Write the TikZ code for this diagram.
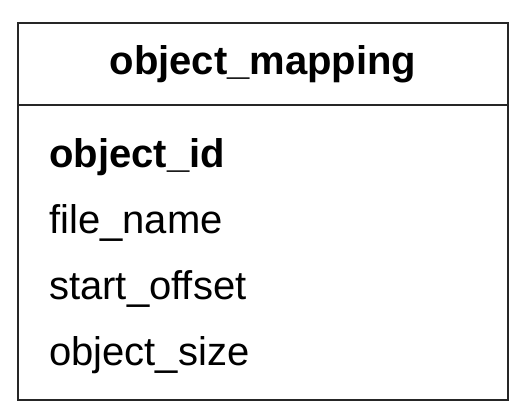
\documentclass[tikz,border=0pt]{standalone}
\usepackage{fontspec}
\setmainfont{Liberation Sans}
\usepackage{tikz}
\usetikzlibrary{positioning}
\tikzset{x=1pt, y=-1pt}
\tikzstyle{tablebox} = [rectangle, draw=black!85, line width=1.5pt, minimum width=490pt, minimum height=377pt, inner sep=0pt]
\tikzstyle{attr} = [anchor=base west, inner sep=0pt, font=\fontsize{40}{48}\selectfont]

\begin{document}
\begin{tikzpicture}
\useasboundingbox (0,0) rectangle (530,416);
\node [tablebox] (tbl) at (263, 211.5) {};
\node [anchor=base, inner sep=0pt, font=\fontsize{40}{48}\selectfont\bfseries] (title) at (263, 74) {object\_mapping};
\coordinate (hl) at (18, 105);
\coordinate (hr) at (508, 105);
\draw [draw=black!85, line width=1.5pt] (hl) -- (hr);
\node [attr, font=\fontsize{40}{48}\selectfont\bfseries] (oid) at (49, 167) {object\_id};
\node [attr] (fname) at (49, 233) {file\_name};
\node [attr] (soff) at (49, 299) {start\_offset};
\node [attr] (osize) at (49, 365) {object\_size};
\end{tikzpicture}
\end{document}
